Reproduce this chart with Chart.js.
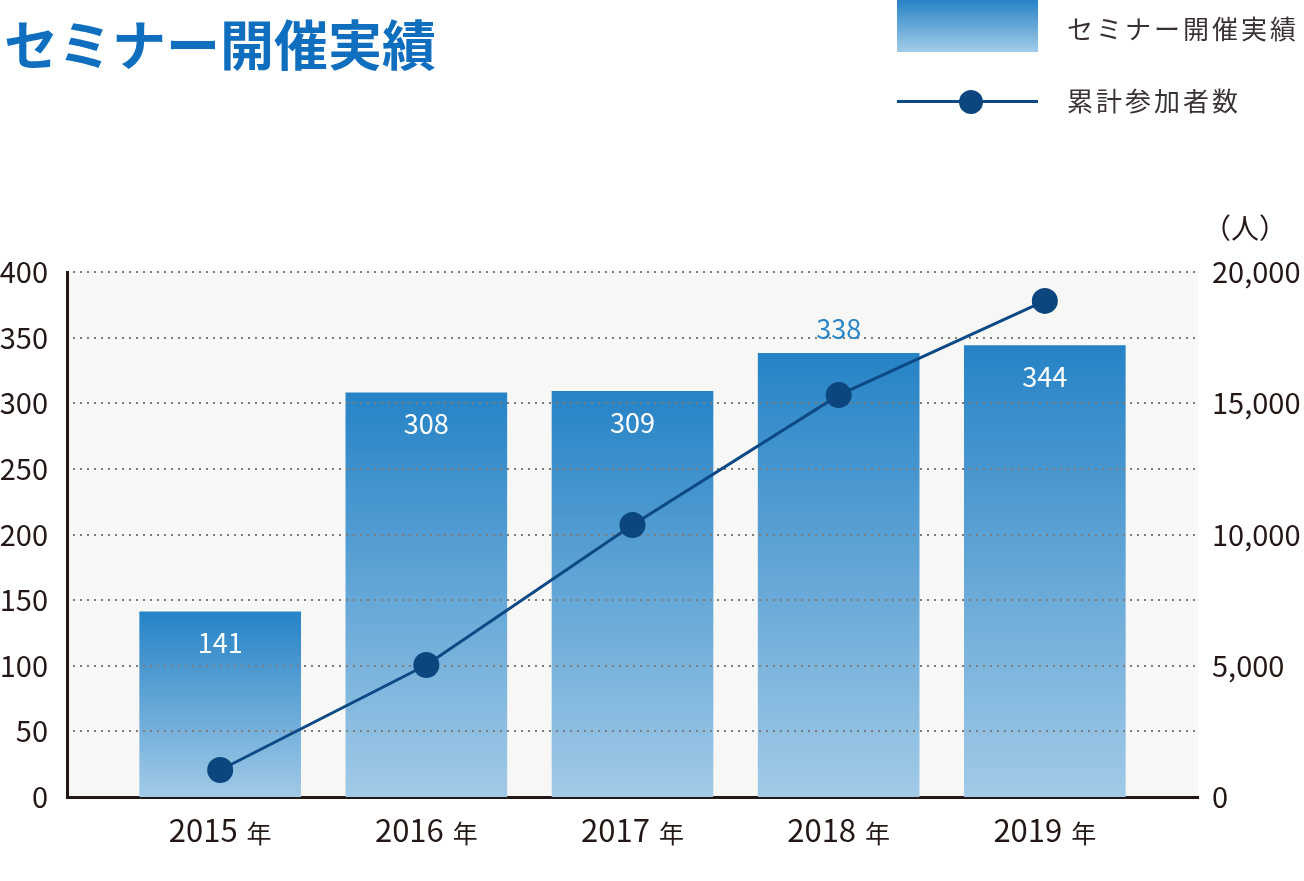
<!DOCTYPE html>
<html lang="ja">
<head>
<meta charset="utf-8">
<title>セミナー開催実績</title>
<script src="https://cdn.jsdelivr.net/npm/chart.js@4.4.0/dist/chart.umd.min.js"></script>
<style>
  body { margin: 0; background: #fff; font-family: "Noto Sans CJK JP", sans-serif; }
  #wrap { position: relative; width: 1304px; height: 881px; }
  #grafico { position: absolute; left: 0; top: 0; }
  #titulo { position: absolute; left: 4px; top: 13px; font-size: 54px; font-weight: 700; color: #0f6fbe; line-height: 60px; white-space: nowrap; }
  .leyenda-texto { position: absolute; left: 1067px; font-size: 26px; color: #3a3232; letter-spacing: 3px; line-height: 30px; white-space: nowrap; }
  #ley-barra { position: absolute; left: 897px; top: 0; width: 141px; height: 52px; background: linear-gradient(#2683c6, #a4cce9); }
  #ley-linea { position: absolute; left: 897px; top: 100px; width: 141px; height: 3px; background: #0d4a85; }
  #ley-punto { position: absolute; left: 959px; top: 90px; width: 24px; height: 24px; border-radius: 50%; background: #0b467f; }
</style>
</head>
<body>
<div id="wrap">
  <canvas id="grafico" width="1304" height="881"></canvas>
  <div id="titulo">セミナー開催実績</div>
  <div id="ley-barra"></div>
  <div class="leyenda-texto" style="top: 13px;">セミナー開催実績</div>
  <div id="ley-linea"></div>
  <div id="ley-punto"></div>
  <div class="leyenda-texto" style="top: 85px;">累計参加者数</div>
</div>
<script>
const years = ['2015', '2016', '2017', '2018', '2019'];
const seminars = [141, 308, 309, 338, 344];
const participants = [1030, 5030, 10360, 15310, 18900];

const inkColor = '#231815';
const fontFamily = '"Noto Sans CJK JP", sans-serif';
Chart.defaults.font.family = fontFamily;

// fondo gris, lineas punteadas sobre las barras, etiquetas
const decoracion = {
    id: 'decoracion',
    beforeDraw(chart) {
        const { ctx, chartArea: a } = chart;
        ctx.save();
        ctx.fillStyle = '#f7f7f5';
        ctx.fillRect(a.left, a.top, a.right - a.left, a.bottom - a.top);
        ctx.restore();
    },
    afterDatasetDraw(chart, args) {
        if (args.index !== 0) return;
        const { ctx, chartArea: a } = chart;
        const y = chart.scales.y;
        ctx.save();
        ctx.strokeStyle = '#7d7d7d';
        ctx.lineWidth = 2;
        ctx.setLineDash([2, 5]);
        y.ticks.forEach(function (t) {
            if (t.value === 0) return;
            const py = Math.round(y.getPixelForValue(t.value));
            ctx.beginPath();
            ctx.moveTo(a.left + 6, py);
            ctx.lineTo(a.right, py);
            ctx.stroke();
        });
        ctx.restore();
    },
    afterDatasetsDraw(chart) {
        const { ctx } = chart;
        const bars = chart.getDatasetMeta(0).data;
        const pts = chart.getDatasetMeta(1).data;
        ctx.save();
        ctx.font = '400 27px ' + fontFamily;
        ctx.textAlign = 'center';
        ctx.textBaseline = 'middle';
        bars.forEach(function (bar, i) {
            let ly = bar.y + 31;
            let color = '#ffffff';
            // si el punto de la linea tapa la etiqueta, va encima de la barra
            if (Math.abs(pts[i].y - ly) < 40) {
                ly = bar.y - 25;
                color = '#2a86c8';
            }
            ctx.fillStyle = color;
            ctx.fillText(String(seminars[i]), bar.x, ly);
        });
        ctx.restore();
    },
    afterDraw(chart) {
        const { ctx, chartArea: a } = chart;
        const x = chart.scales.x;
        ctx.save();
        ctx.fillStyle = inkColor;
        ctx.textBaseline = 'alphabetic';
        years.forEach(function (yr, i) {
            const cx = x.getPixelForValue(i);
            ctx.font = '400 31px ' + fontFamily;
            const w1 = ctx.measureText(yr).width;
            ctx.font = '400 25px ' + fontFamily;
            const w2 = ctx.measureText('年').width;
            const gap = 9;
            const start = cx - (w1 + gap + w2) / 2;
            ctx.textAlign = 'left';
            ctx.font = '400 31px ' + fontFamily;
            ctx.fillText(yr, start, a.bottom + 45);
            ctx.font = '400 25px ' + fontFamily;
            ctx.fillText('年', start + w1 + gap, a.bottom + 46);
        });
        // unidad del eje derecho
        ctx.font = '400 28px ' + fontFamily;
        ctx.textAlign = 'center';
        ctx.textBaseline = 'middle';
        ctx.fillText('（人）', chart.scales.y1.left + 47, a.top - 44);
        ctx.restore();
    }
};

function barGradient(context) {
    const chart = context.chart;
    const y = chart.scales.y;
    if (!y || !context.raw) return '#4a9ad4';
    const top = y.getPixelForValue(context.raw.y);
    const base = y.getPixelForValue(0);
    if (!isFinite(top) || !isFinite(base)) return '#4a9ad4';
    const g = chart.ctx.createLinearGradient(0, top, 0, base);
    g.addColorStop(0, '#2683c6');
    g.addColorStop(1, '#a2cae7');
    return g;
}

const ctx = document.getElementById('grafico');

new Chart(ctx, {
    type: 'bar',
    data: {
        datasets: [{
            type: 'bar',
            label: 'セミナー開催実績',
            data: seminars.map(function (v, i) { return { x: i, y: v }; }),
            backgroundColor: barGradient,
            borderWidth: 0,
            barThickness: 161,
            yAxisID: 'y',
            order: 2
        }, {
            type: 'line',
            label: '累計参加者数',
            data: participants.map(function (v, i) { return { x: i, y: v }; }),
            borderColor: '#0d4a85',
            borderWidth: 3,
            pointRadius: 13,
            pointBackgroundColor: '#0b467f',
            pointBorderWidth: 0,
            tension: 0,
            yAxisID: 'y1',
            order: 1
        }]
    },
    options: {
        responsive: false,
        animation: false,
        layout: { padding: { top: 272, left: 0, right: 0, bottom: 0 } },
        plugins: {
            legend: { display: false },
            tooltip: { enabled: false }
        },
        scales: {
            x: {
                type: 'linear',
                min: -0.743,
                max: 4.743,
                offset: false,
                z: 1,
                grid: { display: false, offset: false },
                border: { display: true, color: inkColor, width: 3 },
                ticks: { display: false },
                afterFit: function (s) { s.height = 84; }
            },
            y: {
                position: 'left',
                min: 0,
                max: 400,
                z: 1,
                grid: { display: false, drawTicks: false },
                border: { display: true, color: inkColor, width: 3 },
                ticks: { stepSize: 50, padding: 19, color: inkColor, font: { size: 29 } },
                afterFit: function (s) { s.width = 67; }
            },
            y1: {
                position: 'right',
                min: 0,
                max: 20000,
                grid: { display: false, drawTicks: false },
                border: { display: false },
                ticks: {
                    stepSize: 5000,
                    padding: 14,
                    color: inkColor,
                    font: { size: 29 },
                    callback: function (v) { return v.toLocaleString('en-US'); }
                },
                afterFit: function (s) { s.width = 106; }
            }
        }
    },
    plugins: [decoracion]
});
</script>
</body>
</html>
